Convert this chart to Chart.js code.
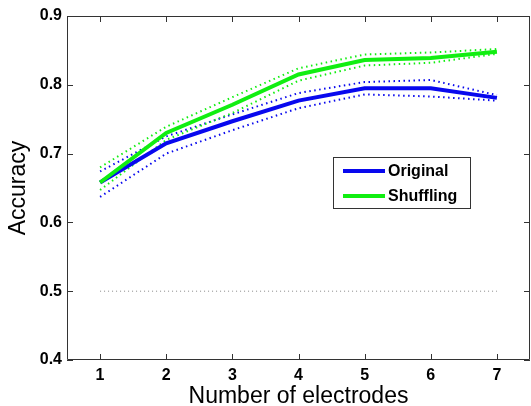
<!DOCTYPE html>
<html>
<head>
<meta charset="utf-8">
<script src="https://cdn.jsdelivr.net/npm/chart.js@4.4.1/dist/chart.umd.min.js"></script>
<style>
  html, body { margin: 0; padding: 0; background: #fff; }
  #wrap { width: 531px; height: 406px; position: relative; }
</style>
</head>
<body>
<div id="wrap"><canvas id="chart"></canvas></div>
<script>
// values
const electrodes = [1, 2, 3, 4, 5, 6, 7];
const xTicks = [1, 2, 3, 4, 5, 6, 7];
const yTicks = [0.4, 0.5, 0.6, 0.7, 0.8, 0.9];

const originalMean = [0.658, 0.715, 0.747, 0.777, 0.795, 0.795, 0.781];
const originalUpper = [0.674, 0.725, 0.757, 0.788, 0.804, 0.807, 0.785];
const originalLower = [0.637, 0.700, 0.734, 0.766, 0.786, 0.783, 0.777];

const shufflingMean = [0.658, 0.730, 0.771, 0.815, 0.836, 0.839, 0.848];
const shufflingUpper = [0.680, 0.739, 0.782, 0.824, 0.844, 0.847, 0.852];
const shufflingLower = [0.647, 0.720, 0.759, 0.806, 0.828, 0.832, 0.845];

const chanceLevel = [0.5, 0.5, 0.5, 0.5, 0.5, 0.5, 0.5];

const BLUE = "#0808ee";
const GREEN = "#11ee11";
const FONT = "Liberation Sans";

const pts = (ys) => electrodes.map((x, i) => ({ x, y: ys[i] }));

const solid = (label, ys, color) => ({
    label,
    data: pts(ys),
    borderColor: color,
    borderWidth: 4,
    pointRadius: 0,
    tension: 0,
    fill: false,
});

const dotted = (ys, color) => ({
    label: "",
    data: pts(ys),
    borderColor: color,
    borderWidth: 2,
    borderDash: [1.5, 3.5],
    pointRadius: 0,
    tension: 0,
    fill: false,
});

// matlab style box with inward ticks on all four sides
const boxPlugin = {
    id: "box",
    afterDatasetsDraw(chart) {
        const { ctx, chartArea: a, scales: { x, y } } = chart;
        const len = 6;
        ctx.save();
        ctx.strokeStyle = "#333";
        ctx.lineWidth = 1;
        ctx.beginPath();
        ctx.rect(a.left + 0.5, a.top + 0.5, a.right - a.left - 1, a.bottom - a.top - 1);
        xTicks.forEach((v) => {
            const px = Math.round(x.getPixelForValue(v)) + 0.5;
            ctx.moveTo(px, a.bottom);
            ctx.lineTo(px, a.bottom - len);
            ctx.moveTo(px, a.top);
            ctx.lineTo(px, a.top + len);
        });
        yTicks.forEach((v) => {
            const py = Math.round(y.getPixelForValue(v)) + 0.5;
            ctx.moveTo(a.left, py);
            ctx.lineTo(a.left + len, py);
            ctx.moveTo(a.right, py);
            ctx.lineTo(a.right - len, py);
        });
        ctx.stroke();
        ctx.restore();
    },
};

// legend box inside the plot, like the original
const legendPlugin = {
    id: "boxLegend",
    afterDraw(chart) {
        const { ctx } = chart;
        const items = [
            { text: "Original", color: BLUE },
            { text: "Shuffling", color: GREEN },
        ];
        const bx = 333, by = 157, bw = 137, bh = 51;
        ctx.save();
        ctx.fillStyle = "#fff";
        ctx.fillRect(bx, by, bw, bh);
        ctx.strokeStyle = "#333";
        ctx.lineWidth = 1;
        ctx.strokeRect(bx + 0.5, by + 0.5, bw, bh);
        ctx.font = "bold 16px '" + FONT + "'";
        ctx.textBaseline = "middle";
        items.forEach((it, i) => {
            const ly = by + 14 + i * 25;
            ctx.strokeStyle = it.color;
            ctx.lineWidth = 4;
            ctx.beginPath();
            ctx.moveTo(bx + 10, ly);
            ctx.lineTo(bx + 52, ly);
            ctx.stroke();
            ctx.fillStyle = "#000";
            ctx.fillText(it.text, bx + 55, ly + 1);
        });
        ctx.restore();
    },
};

new Chart(document.getElementById("chart"), {
    type: "line",
    data: {
        datasets: [
            solid("Shuffling", shufflingMean, GREEN),
            solid("Original", originalMean, BLUE),
            dotted(shufflingUpper, GREEN),
            dotted(shufflingLower, GREEN),
            dotted(originalUpper, BLUE),
            dotted(originalLower, BLUE),
            {
                label: "",
                data: pts(chanceLevel),
                borderColor: "#888",
                borderWidth: 1,
                borderDash: [1, 3],
                pointRadius: 0,
                fill: false,
            },
        ],
    },
    options: {
        responsive: true,
        maintainAspectRatio: false,
        animation: false,
        layout: {
            padding: { top: 16, right: 1, left: 0, bottom: 0 },
        },
        plugins: {
            legend: { display: false },
            tooltip: { enabled: false },
        },
        scales: {
            x: {
                type: "linear",
                min: 0.5,
                max: 7.5,
                afterBuildTicks: (s) => {
                    s.ticks = xTicks.map((v) => ({ value: v }));
                },
                afterFit: (s) => {
                    s.height = 46;
                },
                grid: { display: false, drawTicks: false },
                border: { display: false },
                ticks: {
                    color: "#000",
                    padding: 6,
                    maxRotation: 0,
                    font: { size: 16, family: FONT, weight: "bold" },
                },
                title: {
                    display: true,
                    text: "Number of electrodes",
                    color: "#000",
                    padding: 0,
                    font: { size: 23, family: FONT, lineHeight: 0.78 },
                },
            },
            y: {
                min: 0.4,
                max: 0.9,
                afterBuildTicks: (s) => {
                    s.ticks = yTicks.map((v) => ({ value: v }));
                },
                afterFit: (s) => {
                    s.width = 67;
                },
                grid: { display: false, drawTicks: false },
                border: { display: false },
                ticks: {
                    color: "#000",
                    padding: 5,
                    callback: (v) => v.toFixed(1),
                    font: { size: 16, family: FONT, weight: "bold" },
                },
                title: {
                    display: true,
                    text: "Accuracy",
                    color: "#000",
                    padding: 0,
                    font: { size: 23, family: FONT, lineHeight: 1.65 },
                },
            },
        },
    },
    plugins: [boxPlugin, legendPlugin],
});
</script>
</body>
</html>
